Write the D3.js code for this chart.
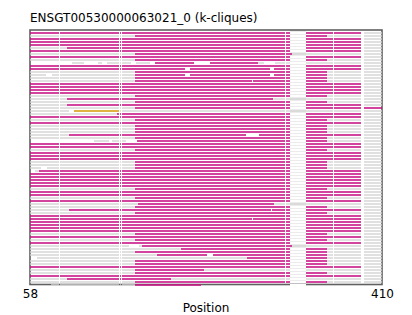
<!DOCTYPE html>
<html>
<head>
<meta charset="utf-8">
<script src="https://cdn.jsdelivr.net/npm/d3@7"></script>
<style>
	body { margin: 0; background: #fff; }
	text { font-family: "DejaVu Sans", sans-serif; fill: #000; }
</style>
</head>
<body>
<svg id="chart" width="412" height="315"></svg>
<script>
// ******* data (alignment positions) *******
let title = "ENSGT00530000063021_0 (k-cliques)";
let xTicks = [58, 410];
let rowCount = 85;

// position where the k-clique (magenta) part of each row starts, top row first
let magStart = [
	58, 163, 58, 58, 58, 95, 58, 163, 58, 163,
	null, 58, 58, 163, 163, 163, 163, 58, 58, 58,
	58, 163, 95, 163, 95, 163, null, 145, 58, 163,
	58, 163, 163, 163, 97, 163, null, 58, 58, 163,
	58, 58, 58, 163, 163, 163, 67, 58, 58, 58,
	58, 58, 163, 58, 58, 163, 58, 166, 163, 97,
	163, 58, 58, 58, 58, 58, 58, 163, 58, 163,
	58, 170, 209, 163, 185, null, 163, 163, 58, 163,
	163, 58, 95, 163, null
];
// position where it ends (grey after that)
let magEnd = [
	389, 355, 389, 389, 389, 389, 389, 320, 389, 355,
	null, 389, 389, 355, 355, 355, 355, 389, 389, 389,
	389, 355, 301, 355, 389, 410, null, 389, 389, 355,
	389, 355, 355, 355, 389, 355, null, 389, 389, 355,
	389, 389, 389, 355, 355, 355, 389, 389, 389, 389,
	389, 389, 355, 389, 389, 355, 389, 302, 355, 389,
	355, 389, 389, 389, 389, 389, 389, 355, 389, 355,
	389, 320, 355, 355, 355, null, 355, 355, 389, 232,
	355, 389, 199, 355, null
];
// rows that begin later than 58: [row, start]
let lateStarts = [[46, 63]];

// rows drawn by hand: [row, [[from, to, kind], ...]]  m = clique, g = grey, y = gold
let customRows = [
	[10, [[100, 112, "g"], [126, 130, "g"], [135, 159, "g"], [164, 178, "g"], [183, 222, "m"],
		[238, 286, "m"], [286, 292, "g"], [303, 410, "g"]]],
	[26, [[58, 97, "g"], [102, 147, "y"], [147, 410, "g"]]],
	[36, [[122, 137, "g"], [140, 154, "g"], [165, 355, "m"], [355, 410, "g"]]],
	[75, [[65, 275, "g"], [275, 355, "m"], [355, 410, "g"]]],
	[84, [[79, 163, "g"], [163, 229, "m"]]]
];

// gap columns shared by every row
let gapCols = [[87, 88], [147, 148], [149, 150], [313, 314], [361, 362], [389, 392]];
// wide gap column, shaded behind the rows
let bandGap = [318, 334];
let bandFilled = [7, 22, 26, 57, 71];
// single-row gaps: [row, from, to]
let extraGaps = [
	[12, 213, 218], [12, 298, 302], [14, 74, 80], [14, 213, 218], [14, 298, 302],
	[16, 280, 281], [34, 274, 287], [45, 69, 75], [59, 299, 300], [62, 280, 281],
	[71, 157, 167], [74, 235, 241]
];

let colors = {m: "mediumvioletred", g: "lightgray", y: "goldenrod", w: "#ffffff"};
let opacities = {m: 0.8, g: 0.7, y: 0.85, w: 1};

// cut the gaps out of a list of segments
function cutGaps(segs, gaps)
{
	let out = segs;
	for(let gap of gaps)
	{
		let next = [];
		for(let s of out)
		{
			if(gap[1] <= s[0] || gap[0] >= s[1])
			{
				next.push(s);
				continue;
			}
			if(gap[0] > s[0]) next.push([s[0], gap[0], s[2]]);
			if(gap[1] < s[1]) next.push([gap[1], s[1], s[2]]);
		}
		out = next;
	}
	return out;
}

let rects = [];
for(let i = 0; i < rowCount; i++)
{
	let segs;
	let custom = customRows.find(c => c[0] === i);
	if(custom)
		segs = custom[1];
	else
	{
		let late = lateStarts.find(l => l[0] === i);
		let start = late ? late[1] : 58;
		segs = [];
		if(magStart[i] > start) segs.push([start, magStart[i], "g"]);
		segs.push([magStart[i], magEnd[i], "m"]);
		if(magEnd[i] < 410) segs.push([magEnd[i], 410, "g"]);
	}
	let gaps = gapCols.slice();
	if(bandFilled.indexOf(i) < 0)
	{
		gaps.push(bandGap);
		// the row itself is blank inside the shaded band
		rects.push({row: i, from: bandGap[0], to: bandGap[1], kind: "w"});
	}
	for(let e of extraGaps)
		if(e[0] === i) gaps.push([e[1], e[2]]);
	for(let s of cutGaps(segs, gaps))
		rects.push({row: i, from: s[0], to: s[1], kind: s[2]});
}

// ******* drawing *******
let svg = d3.select("#chart");
let plotLeft = 30, plotRight = 382, plotTop = 30, plotBottom = 284.5;

let xScale = d3.scaleLinear()
	.domain([58, 410])
	.range([plotLeft, plotRight]);

let yScale = d3.scaleLinear()
	.domain([0, rowCount - 1])
	.range([33, 33 + 3 * (rowCount - 1)]);

svg.append("text")
	.attr("x", plotLeft)
	.attr("y", 22)
	.style("font-size", "12px")
	.text(title);

// shaded band behind the rows
svg.append("rect")
	.attr("x", xScale(bandGap[0]))
	.attr("y", plotTop)
	.attr("width", xScale(bandGap[1]) - xScale(bandGap[0]))
	.attr("height", plotBottom - plotTop)
	.attr("fill", "lightgray")
	.attr("fill-opacity", 0.45);

// frame
svg.append("rect")
	.attr("x", plotLeft)
	.attr("y", plotTop)
	.attr("width", plotRight - plotLeft)
	.attr("height", plotBottom - plotTop)
	.attr("fill", "none")
	.attr("stroke", "#606060")
	.attr("stroke-width", 1.6);

// rows go on top of the frame, like in the picture
svg.append("g").attr("id", "rows")
	.selectAll("rect")
	.data(rects)
	.enter().append("rect")
	.attr("x", d => xScale(d.from))
	.attr("width", d => xScale(d.to) - xScale(d.from))
	.attr("y", d => yScale(d.row) - 1)
	.attr("height", 2)
	.attr("fill", d => colors[d.kind])
	.attr("fill-opacity", d => opacities[d.kind]);

// x axis: only the two end labels, no tick lines
let xAxis = d3.axisBottom(xScale).tickValues(xTicks).tickSize(0).tickPadding(4);
let axisG = svg.append("g")
	.attr("transform", "translate(0," + (plotBottom + 0.5) + ")")
	.call(xAxis);
axisG.select(".domain").remove();
axisG.selectAll("text")
	.style("font-size", "12px")
	.style("font-family", "DejaVu Sans")
	.attr("fill", "#000");

svg.append("text")
	.attr("x", (plotLeft + plotRight) / 2)
	.attr("y", 312)
	.attr("text-anchor", "middle")
	.style("font-size", "12px")
	.text("Position");
</script>
</body>
</html>
